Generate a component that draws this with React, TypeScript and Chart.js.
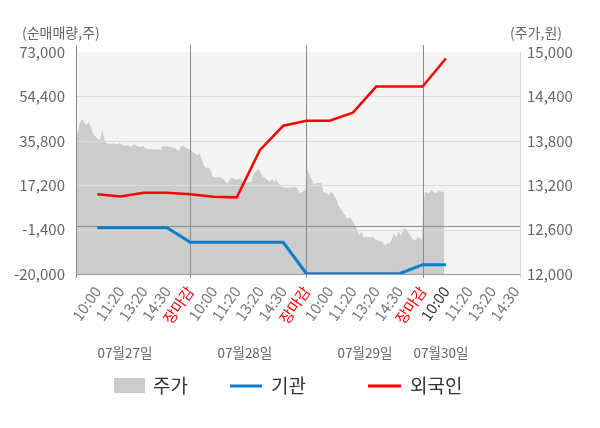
import React, { useEffect, useRef } from 'react';
import { Chart, registerables } from 'chart.js';

Chart.register(...registerables);

const FONT = "'Noto Sans CJK KR', 'Noto Sans', sans-serif";

// x-axis slot labels (one per slot position 1..19)
const xTickLabels = [
  '10:00', '11:20', '13:20', '14:30', '장마감',
  '10:00', '11:20', '13:20', '14:30', '장마감',
  '10:00', '11:20', '13:20', '14:30', '장마감',
  '10:00', '11:20', '13:20', '14:30',
];
const dayLabels = ['07월27일', '07월28일', '07월29일', '07월30일'];
const dayLabelSlots = [2.19, 7.35, 12.52, 15.79];
const dayBoundarySlots = [5, 10, 15];

// net buying (shares) at each slot
const flowSlots = [1, 2, 3, 4, 5, 6, 7, 8, 9, 10, 11, 12, 13, 14, 15, 16];
const institution = [-600, -600, -600, -600, -6700, -6700, -6700, -6700, -6700, -19900, -19900, -19900, -19900, -19900, -16100, -16100];
const foreigner = [13400, 12500, 14000, 14000, 13400, 12400, 12100, 32000, 42100, 44200, 44200, 47600, 58500, 58500, 58500, 70300];

// stock price (won)
const priceSlots = [
  0.08, 0.14, 0.21, 0.31, 0.37, 0.43, 0.48, 0.54, 0.60, 0.65, 0.71, 0.78, 0.86, 0.93, 1.00, 1.07, 1.14, 1.20, 1.25, 1.31,
  1.37, 1.43, 1.57, 1.72, 1.86, 1.97, 2.08, 2.22, 2.36, 2.44, 2.50, 2.58, 2.65, 2.72, 2.87, 2.97, 3.08, 3.22, 3.44, 3.65,
  3.72, 3.79, 3.98, 4.15, 4.22, 4.37, 4.51, 4.59, 4.73, 4.87, 4.94,
  5.02, 5.11, 5.22, 5.33, 5.40, 5.47, 5.55, 5.62, 5.72, 5.83, 5.90, 5.98, 6.19, 6.33, 6.48, 6.55, 6.65, 6.76, 6.91, 7.05,
  7.17, 7.27, 7.48, 7.62, 7.73, 7.84, 7.91, 8.01, 8.13, 8.27, 8.42, 8.52, 8.60, 8.70, 8.80, 8.92, 9.13, 9.35, 9.49, 9.63,
  9.71, 9.81, 9.96,
  10.01, 10.08, 10.15, 10.22, 10.29, 10.39, 10.50, 10.65, 10.72, 10.87, 10.98, 11.05, 11.15, 11.27, 11.37, 11.47, 11.56,
  11.66, 11.76, 11.87, 11.99, 12.09, 12.19, 12.27, 12.38, 12.44, 12.66, 12.87, 12.99, 13.16, 13.28, 13.38, 13.48, 13.59,
  13.69, 13.76, 13.85, 13.97, 14.07, 14.20, 14.31, 14.42, 14.57, 14.67, 14.77, 14.88, 14.97,
  15.03, 15.10, 15.25, 15.39, 15.54, 15.68, 15.83, 15.93,
];
const prices = [
  13920, 13900, 13990, 14090, 14080, 14055, 14020, 14020, 14035, 14045, 13990, 13930, 13875, 13855, 13830, 13810, 13840, 13945, 13900, 13810,
  13775, 13765, 13760, 13765, 13755, 13770, 13740, 13735, 13735, 13705, 13740, 13755, 13740, 13725, 13715, 13730, 13695, 13685, 13685, 13685,
  13670, 13725, 13725, 13715, 13705, 13695, 13660, 13725, 13725, 13695, 13685,
  13675, 13650, 13630, 13605, 13630, 13570, 13495, 13450, 13425, 13435, 13380, 13305, 13310, 13300, 13270, 13225, 13245, 13305, 13280, 13280,
  13290, 13245, 13240, 13245, 13360, 13390, 13425, 13390, 13315, 13280, 13245, 13290, 13240, 13270, 13225, 13180, 13165, 13165, 13175, 13155,
  13090, 13110, 13135,
  13425, 13380, 13325, 13280, 13215, 13225, 13230, 13225, 13105, 13090, 13065, 13110, 13090, 13020, 12930, 12885, 12840,
  12795, 12750, 12765, 12720, 12660, 12595, 12525, 12570, 12495, 12495, 12495, 12460, 12445, 12435, 12380, 12415, 12415,
  12480, 12550, 12495, 12570, 12515, 12630, 12595, 12540, 12470, 12450, 12495, 12490, 12460,
  12865, 13110, 13090, 13135, 13090, 13125, 13110, 13125,
];

const decorPlugin = {
  id: 'decor',
  beforeDraw(chart: any) {
    const { ctx, chartArea: a } = chart;
    ctx.save();
    ctx.fillStyle = '#f4f4f4';
    ctx.fillRect(a.left, a.top, a.right - a.left, a.bottom - a.top);
    ctx.restore();
  },
  afterDatasetDraw(chart: any, args: any) {
    if (args.index !== 0) return;
    const { ctx, chartArea: a } = chart;
    const y = chart.scales.y;
    const x = chart.scales.x;
    ctx.save();
    ctx.lineWidth = 1;
    // horizontal grid lines
    ctx.strokeStyle = '#dcdcdc';
    y.ticks.forEach((t: any) => {
      if (t.value === y.min || t.value === y.max) return;
      const py = Math.round(y.getPixelForValue(t.value)) + 0.5;
      ctx.beginPath();
      ctx.moveTo(a.left, py);
      ctx.lineTo(a.right, py);
      ctx.stroke();
    });
    // zero line
    ctx.strokeStyle = '#8a8a8a';
    const zy = Math.round(y.getPixelForValue(0)) + 0.5;
    ctx.beginPath();
    ctx.moveTo(a.left, zy);
    ctx.lineTo(a.right, zy);
    ctx.stroke();
    // right axis line
    ctx.strokeStyle = '#d8d8d8';
    ctx.beginPath();
    ctx.moveTo(Math.round(a.right) + 0.5, a.top);
    ctx.lineTo(Math.round(a.right) + 0.5, a.bottom + 4);
    ctx.stroke();
    // vertical day lines and left axis
    ctx.strokeStyle = '#8a8a8a';
    const vx = [a.left, ...dayBoundarySlots.map((s) => x.getPixelForValue(s))];
    vx.forEach((px) => {
      const p = Math.round(px) + 0.5;
      ctx.beginPath();
      ctx.moveTo(p, a.top - 7);
      ctx.lineTo(p, a.bottom + 4);
      ctx.stroke();
    });
    // bottom axis
    ctx.strokeStyle = '#999999';
    const by = Math.round(a.bottom) + 0.5;
    ctx.beginPath();
    ctx.moveTo(a.left, by);
    ctx.lineTo(a.right, by);
    ctx.stroke();
    ctx.restore();
  },
  afterDraw(chart: any) {
    const { ctx } = chart;
    const x = chart.scales.x;
    ctx.save();
    ctx.textBaseline = 'middle';
    ctx.fillStyle = '#666666';
    ctx.font = `14px ${FONT}`;
    ctx.textAlign = 'left';
    ctx.fillText('(순매매량,주)', 22, 33);
    ctx.textAlign = 'right';
    ctx.fillText('(주가,원)', 562, 33);
    ctx.font = `13.5px ${FONT}`;
    ctx.textAlign = 'center';
    dayLabels.forEach((d, i) => {
      ctx.fillText(d, x.getPixelForValue(dayLabelSlots[i]), 353);
    });
    // legend
    const ly = 386;
    ctx.font = `19px ${FONT}`;
    ctx.textAlign = 'left';
    ctx.fillStyle = '#cccccc';
    ctx.fillRect(114, 378, 31, 15);
    ctx.fillStyle = '#333333';
    ctx.fillText('주가', 153, ly);
    ctx.lineWidth = 3;
    ctx.strokeStyle = '#0c7ccc';
    ctx.beginPath();
    ctx.moveTo(230, ly);
    ctx.lineTo(262, ly);
    ctx.stroke();
    ctx.fillText('기관', 271, ly);
    ctx.strokeStyle = '#ff0000';
    ctx.beginPath();
    ctx.moveTo(368, ly);
    ctx.lineTo(401, ly);
    ctx.stroke();
    ctx.fillText('외국인', 410, ly);
    ctx.restore();
  },
};

export default function App() {
  const ref = useRef<HTMLCanvasElement | null>(null);
  useEffect(() => {
    if (!ref.current) return;
    const chart = new Chart(ref.current, {
      type: 'line',
      data: {
        datasets: [
          {
            label: '주가',
            data: priceSlots.map((s, i) => ({ x: s, y: prices[i] })),
            yAxisID: 'y1',
            backgroundColor: '#cccccc',
            borderColor: 'rgba(0,0,0,0)',
            borderWidth: 1,
            pointRadius: 0,
            fill: 'start',
            tension: 0,
            order: 3,
          },
          {
            label: '기관',
            data: flowSlots.map((s, i) => ({ x: s, y: institution[i] })),
            yAxisID: 'y',
            borderColor: '#0c7ccc',
            borderWidth: 3,
            pointRadius: 0,
            fill: false,
            tension: 0,
            order: 2,
          },
          {
            label: '외국인',
            data: flowSlots.map((s, i) => ({ x: s, y: foreigner[i] })),
            yAxisID: 'y',
            borderColor: '#ff0000',
            borderWidth: 2.5,
            pointRadius: 0,
            fill: false,
            tension: 0,
            order: 1,
          },
        ],
      },
      options: {
        responsive: false,
        animation: false,
        events: [],
        layout: { autoPadding: false, padding: { top: 52, left: 0, right: 0, bottom: 0 } },
        plugins: { legend: { display: false }, tooltip: { enabled: false } },
        scales: {
          x: {
            type: 'linear',
            min: 0.082,
            max: 19.19,
            grid: { display: false, drawTicks: false },
            border: { display: false },
            afterBuildTicks: (scale: any) => {
              scale.ticks = xTickLabels.map((_, i) => ({ value: i + 1 }));
            },
            afterFit: (scale: any) => {
              scale.height = 154;
            },
            ticks: {
              autoSkip: false,
              maxRotation: 55,
              minRotation: 55,
              padding: 9,
              font: { family: FONT, size: 15 },
              color: (c: any) => {
                const lbl = xTickLabels[c.index];
                if (lbl === '장마감') return '#ff0000';
                if (c.index === 15) return '#333333';
                return '#777777';
              },
              callback: (_v: any, i: number) => xTickLabels[i],
            },
          },
          y: {
            position: 'left',
            min: -20000,
            max: 73000,
            grid: { display: false, drawTicks: false },
            border: { display: false },
            afterFit: (scale: any) => {
              scale.width = 76;
            },
            ticks: {
              stepSize: 18600,
              padding: 11,
              color: '#666666',
              font: { family: FONT, size: 15 },
              callback: (v: any) => Number(v).toLocaleString('en-US'),
            },
          },
          y1: {
            position: 'right',
            min: 12000,
            max: 15000,
            grid: { display: false, drawTicks: false },
            border: { display: false },
            afterFit: (scale: any) => {
              scale.width = 80;
            },
            ticks: {
              stepSize: 600,
              padding: 7,
              color: '#666666',
              font: { family: FONT, size: 15 },
              callback: (v: any) => Number(v).toLocaleString('en-US'),
            },
          },
        },
      },
      plugins: [decorPlugin],
    });
    return () => chart.destroy();
  }, []);
  return (
    <div style={{ position: 'absolute', left: 0, top: 0, width: 600, height: 428, background: '#ffffff' }}>
      <canvas ref={ref} width={600} height={428} style={{ width: 600, height: 428, display: 'block' }} />
    </div>
  );
}
